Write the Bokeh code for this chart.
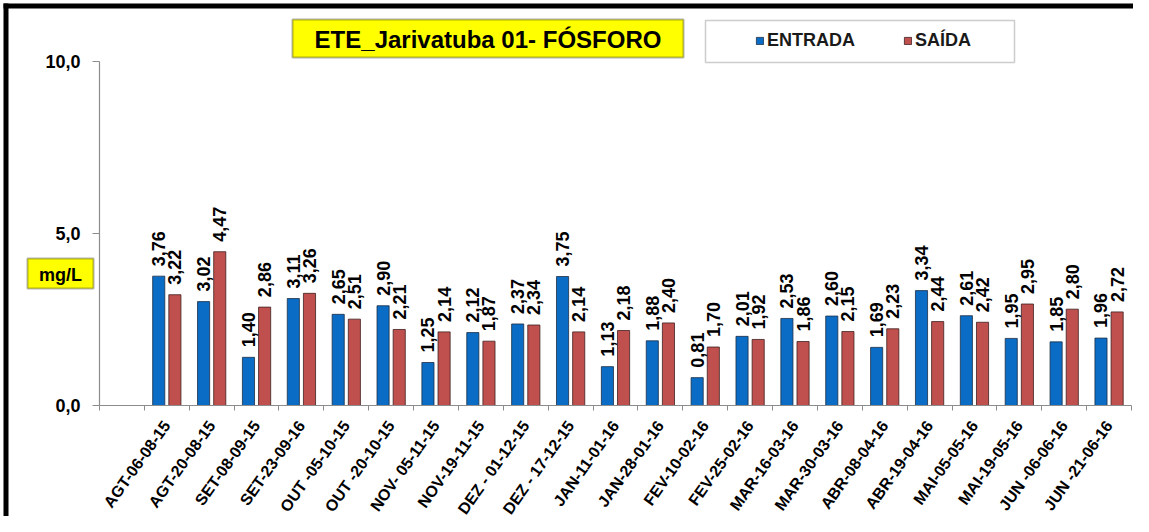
import math
from bokeh.plotting import figure
from bokeh.models import (Range1d, LinearAxis, FixedTicker, ColumnDataSource, LabelSet, Label,
                          BoxAnnotation, Legend, LegendItem)
from bokeh.core.properties import value
from bokeh.transform import dodge
from bokeh.embed import file_html
from bokeh.resources import INLINE

# ---------------- data ----------------
title_text = "ETE_Jarivatuba 01- FÓSFORO"
unit_text = "mg/L"
series_names = ["ENTRADA", "SAÍDA"]
categories = [
    "AGT-06-08-15", "AGT-20-08-15", "SET-08-09-15", "SET-23-09-16", "OUT -05-10-15",
    "OUT -20-10-15", "NOV- 05-11-15", "NOV-19-11-15", "DEZ - 01-12-15", "DEZ - 17-12-15",
    "JAN-11-01-16", "JAN-28-01-16", "FEV-10-02-16", "FEV-25-02-16", "MAR-16-03-16",
    "MAR-30-03-16", "ABR-08-04-16", "ABR-19-04-16", "MAI-05-05-16", "MAI-19-05-16",
    "JUN -06-06-16", "JUN -21-06-16",
]
entrada = [3.76, 3.02, 1.40, 3.11, 2.65, 2.90, 1.25, 2.12, 2.37, 3.75, 1.13,
           1.88, 0.81, 2.01, 2.53, 2.60, 1.69, 3.34, 2.61, 1.95, 1.85, 1.96]
saida = [3.22, 4.47, 2.86, 3.26, 2.51, 2.21, 2.14, 1.87, 2.34, 2.14, 2.18,
         2.40, 1.70, 1.92, 1.86, 2.15, 2.23, 2.44, 2.42, 2.95, 2.80, 2.72]
y_ticks = [0, 5, 10]
y_tick_labels = ["0,0", "5,0", "10,0"]

# ---------------- layout constants (pixels) ----------------
FONT = "Liberation Sans"
W, H = 1133, 516
AX_LEFT, AX_RIGHT = 99, 1131      # pixel span of the category axis
AX_TOP, AX_BOTTOM = 61, 405       # pixel span of the value axis

n_slots = len(categories) + 1     # first slot of the category axis is empty
centers = [i + 1.5 for i in range(len(categories))]
fmt = lambda v: f"{v:.2f}".replace(".", ",")

# the frame covers the whole canvas; axes are drawn at fixed locations inside it
xs = (AX_RIGHT - AX_LEFT) / n_slots
ys = (AX_BOTTOM - AX_TOP) / (y_ticks[-1] - y_ticks[0])
x_range = Range1d(-AX_LEFT / xs, n_slots + (W - AX_RIGHT) / xs)
y_range = Range1d(y_ticks[0] - (H - AX_BOTTOM) / ys, y_ticks[-1] + AX_TOP / ys)

def sx(px):
    return px

def sy(py):
    return H - py

src = ColumnDataSource(dict(
    x=centers, entrada=entrada, saida=saida,
    lab_e=[fmt(v) for v in entrada], lab_s=[fmt(v) for v in saida],
))

p = figure(width=W, height=H, output_backend="svg", toolbar_location=None,
           x_range=x_range, y_range=y_range, x_axis_type=None, y_axis_type=None,
           min_border_left=0, min_border_right=0, min_border_top=0, min_border_bottom=0)
p.outline_line_color = None
p.background_fill_color = "white"
p.border_fill_color = "white"

AX = "#8c8c8c"
xaxis = LinearAxis(
    fixed_location=0, bounds=(0, n_slots),
    ticker=FixedTicker(ticks=centers, minor_ticks=list(range(n_slots + 1))),
    major_label_overrides={c: lab for c, lab in zip(centers, categories)},
    major_label_orientation=0.95,
    major_label_standoff=12,
    major_label_text_font=FONT, major_label_text_font_style="bold",
    major_label_text_font_size="16px", major_label_text_color="black",
    axis_line_color=AX, axis_line_width=1.2,
    major_tick_line_color=None, major_tick_in=0, major_tick_out=0,
    minor_tick_line_color=AX, minor_tick_in=0, minor_tick_out=5,
)
p.add_layout(xaxis, "below")

yaxis = LinearAxis(
    fixed_location=0, bounds=(y_ticks[0], y_ticks[-1]),
    ticker=FixedTicker(ticks=y_ticks),
    major_label_overrides=dict(zip(y_ticks, y_tick_labels)),
    major_label_standoff=12,
    major_label_text_font=FONT, major_label_text_font_style="bold",
    major_label_text_font_size="18px", major_label_text_color="black",
    axis_line_color=AX, axis_line_width=1.2,
    major_tick_line_color=AX, major_tick_in=0, major_tick_out=7,
    minor_tick_line_color=None,
)
p.add_layout(yaxis, "left")

BLUE, RED = "#0A6CC4", "#C0504D"
r1 = p.vbar(x=dodge("x", -0.18), top="entrada", width=0.27, source=src,
            fill_color=BLUE, line_color="#1d2f45", line_width=0.8)
r2 = p.vbar(x=dodge("x", 0.18), top="saida", width=0.27, source=src,
            fill_color=RED, line_color="#3d2020", line_width=0.8)

for col, lab, off in (("entrada", "lab_e", -0.18), ("saida", "lab_s", 0.18)):
    p.add_layout(LabelSet(x=dodge("x", off), y=col, text=lab, source=src,
                          angle=math.pi / 2, text_align="left", text_baseline="middle",
                          y_offset=10, text_font=value(FONT), text_font_style="bold",
                          text_font_size="18px", text_color="black"))

def box(l, r, t, b, **kw):
    return BoxAnnotation(left=sx(l), right=sx(r), top=sy(t), bottom=sy(b),
                         left_units="screen", right_units="screen",
                         top_units="screen", bottom_units="screen", **kw)

# outer frame: thick black strips along the left and top edges
p.add_layout(box(3, 8, 3, H, fill_color="black", fill_alpha=1, line_color=None))
p.add_layout(box(3, W, 3, 8, fill_color="black", fill_alpha=1, line_color=None))

# title box
p.add_layout(box(292, 683, 19, 57, fill_color="#FFFF00", fill_alpha=1,
                 line_color="black", line_width=2))
p.add_layout(Label(x=sx(487.5), y=sy(39), x_units="screen", y_units="screen",
                   text=title_text, text_align="center", text_baseline="middle",
                   text_font=FONT, text_font_style="bold", text_font_size="24px",
                   text_color="black"))

# unit box
p.add_layout(box(27, 93, 258, 288, fill_color="#FFFF00", fill_alpha=1,
                 line_color="black", line_width=2))
p.add_layout(Label(x=sx(60), y=sy(274), x_units="screen", y_units="screen",
                   text=unit_text, text_align="center", text_baseline="middle",
                   text_font=FONT, text_font_style="bold", text_font_size="18px",
                   text_color="black"))

# legend box
p.add_layout(box(705, 1014, 20, 62, fill_color="white", fill_alpha=1,
                 line_color="#5a5a5a", line_width=1.5))
legend = Legend(items=[LegendItem(label=series_names[0], renderers=[r1]),
                       LegendItem(label=series_names[1], renderers=[r2])],
                orientation="horizontal", location=(sx(755), sy(51)),
                padding=0, margin=0, spacing=0, glyph_width=9, glyph_height=9,
                label_standoff=3, label_width=136, label_height=20,
                border_line_color=None, background_fill_alpha=0,
                label_text_font=FONT, label_text_font_style="bold",
                label_text_font_size="18px", label_text_color="#1a1a1a")
p.add_layout(legend, "center")

open("out.html", "w").write(file_html(p, INLINE))
